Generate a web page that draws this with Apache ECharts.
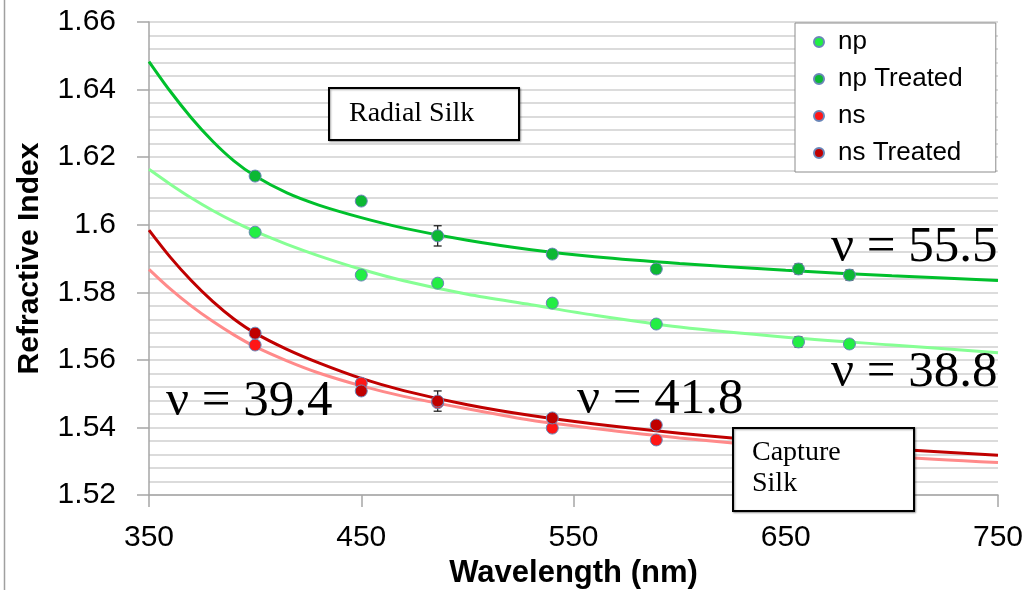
<!DOCTYPE html>
<html>
<head>
<meta charset="utf-8">
<script src="https://cdn.jsdelivr.net/npm/echarts@6/dist/echarts.min.js"></script>
<style>
  html, body { margin: 0; padding: 0; background: #fff; }
  #chart { width: 1031px; height: 590px; }
</style>
</head>
<body>
<div id="chart"></div>
<script>
// Measured refractive indices (Fraunhofer / laser lines, nm)
const wavelengths = [400, 450, 486, 540, 589, 656, 680];
const redWavelengths = [400, 450, 486, 540, 589];

const np        = [1.5978, 1.5851, 1.5827, 1.5768, 1.5706, 1.5653, 1.5647];
const npTreated = [1.6144, 1.6070, 1.5967, 1.5913, 1.5869, 1.5869, 1.5851];
const ns        = [1.5644, 1.5531, 1.5473, 1.5398, 1.5363];
const nsTreated = [1.5679, 1.5508, 1.5478, 1.5428, 1.5407];

// Standard deviations (0 = no bar drawn)
const npErr        = [0, 0, 0, 0, 0, 0.0015, 0.0012];
const npTreatedErr = [0, 0, 0.003, 0.0012, 0.0013, 0.0015, 0.0015];
const nsErr        = [0, 0, 0, 0, 0];
const nsTreatedErr = [0, 0, 0.003, 0, 0];

// Dispersion fit curves sampled across the axis range
const fitWavelengths = [350, 360, 370, 380, 390, 400, 415, 430, 450, 470, 500, 530, 560, 600, 650, 700, 750];
const npTreatedFit = [1.6483, 1.6395, 1.6316, 1.6247, 1.6189, 1.6144, 1.6094, 1.6058, 1.6021, 1.5990, 1.5954, 1.5926, 1.5905, 1.5885, 1.5865, 1.5849, 1.5835];
const npFit        = [1.6164, 1.6120, 1.6079, 1.6042, 1.6009, 1.5980, 1.5942, 1.5908, 1.5868, 1.5834, 1.5794, 1.5763, 1.5732, 1.5697, 1.5667, 1.5644, 1.5621];
const nsTreatedFit = [1.5984, 1.5904, 1.5834, 1.5773, 1.5721, 1.5679, 1.5631, 1.5591, 1.5545, 1.5509, 1.5467, 1.5435, 1.5410, 1.5383, 1.5356, 1.5336, 1.5318];
const nsFit        = [1.5868, 1.5810, 1.5759, 1.5714, 1.5674, 1.5639, 1.5597, 1.5561, 1.5523, 1.5492, 1.5455, 1.5421, 1.5397, 1.5369, 1.5340, 1.5314, 1.5296];

// Abbe numbers written beside the curves
const abbeLabels = ['ν = 55.5', 'ν = 38.8', 'ν = 39.4', 'ν = 41.8'];

const xTickLabels = ['350', '450', '550', '650', '750'];
const yTickLabels = ['1.52', '1.54', '1.56', '1.58', '1.6', '1.62', '1.64', '1.66'];
const seriesNames = ['np', 'np Treated', 'ns', 'ns Treated'];

const xMin = 350, xMax = 750, xStep = 100;
const yMin = 1.52, yMax = 1.66, yStep = 0.02;

const colors = {
  np: '#22ee44', npTreated: '#0cb834', ns: '#ff1616', nsTreated: '#c00000',
  npFit: '#86ff94', npTreatedFit: '#00c02c', nsFit: '#ff8a8a', nsTreatedFit: '#c00000'
};

const zip = (xs, ys) => xs.map((x, i) => [x, ys[i]]);
const zipErr = (xs, ys, es) => xs.map((x, i) => [x, ys[i], es[i]]).filter(d => d[2] > 0);

function fitSeries(name, values, color) {
  return {
    name: name, type: 'line', data: zip(fitWavelengths, values),
    showSymbol: false, smooth: 0.3, silent: true, z: 2,
    lineStyle: { color: color, width: 3 }
  };
}

function errorSeries(xs, ys, es) {
  return {
    type: 'custom', silent: true, z: 3,
    data: zipErr(xs, ys, es),
    renderItem: function (params, api) {
      const x = api.value(0), y = api.value(1), e = api.value(2);
      const top = api.coord([x, y + e]);
      const bot = api.coord([x, y - e]);
      const cap = 4;
      const st = { stroke: '#222', lineWidth: 1.3 };
      return {
        type: 'group', children: [
          { type: 'line', shape: { x1: top[0], y1: top[1], x2: bot[0], y2: bot[1] }, style: st },
          { type: 'line', shape: { x1: top[0] - cap, y1: top[1], x2: top[0] + cap, y2: top[1] }, style: st },
          { type: 'line', shape: { x1: bot[0] - cap, y1: bot[1], x2: bot[0] + cap, y2: bot[1] }, style: st }
        ]
      };
    }
  };
}

function pointSeries(name, xs, ys, color) {
  return {
    name: name, type: 'scatter', data: zip(xs, ys), z: 4,
    symbol: 'circle', symbolSize: 12,
    itemStyle: { color: color, borderColor: '#6a86b8', borderWidth: 1, opacity: 1 }
  };
}

const serif = '"Liberation Serif", "Times New Roman", serif';
const sans = '"Liberation Sans", Arial, sans-serif';

function boxRect(x, y, w, h) {
  return {
    type: 'rect', z: 100,
    shape: { x: x, y: y, width: w, height: h },
    style: { fill: '#fff', stroke: '#000', lineWidth: 2,
      shadowBlur: 2, shadowOffsetX: 1, shadowOffsetY: 1, shadowColor: 'rgba(0,0,0,0.35)' }
  };
}
function boxText(text, x, y) {
  return {
    type: 'text', z: 101, x: x, y: y,
    style: { text: text, font: '28px ' + serif, fill: '#000', verticalAlign: 'middle', align: 'left' }
  };
}
function abbeText(text, x, y) {
  return {
    type: 'text', z: 101, x: x, y: y,
    style: { text: text, font: '51px ' + serif, fill: '#000', verticalAlign: 'middle', align: 'left' }
  };
}

const chart = echarts.init(document.getElementById('chart'), null, { renderer: 'canvas' });

chart.setOption({
  animation: false,
  backgroundColor: '#fff',
  grid: { left: 149, right: 33, top: 22, bottom: 95, containLabel: false, outerBoundsMode: 'none' },
  xAxis: {
    type: 'value', min: xMin, max: xMax, interval: xStep,
    name: 'Wavelength (nm)', nameLocation: 'middle', nameGap: 61,
    nameTextStyle: { fontFamily: sans, fontWeight: 'bold', fontSize: 31, color: '#000' },
    axisLine: { show: true, onZero: false, lineStyle: { color: '#a6a6a6', width: 1.5 } },
    axisTick: { show: true, inside: false, length: 12, lineStyle: { color: '#a6a6a6', width: 1.5 } },
    axisLabel: {
      margin: 28, fontFamily: sans, fontSize: 30, color: '#000',
      formatter: v => xTickLabels[Math.round((v - xMin) / xStep)]
    },
    splitLine: { show: false }
  },
  yAxis: {
    type: 'value', min: yMin, max: yMax, interval: yStep,
    name: 'Refractive Index', nameLocation: 'middle', nameGap: 104, nameRotate: 90,
    nameTextStyle: { fontFamily: sans, fontWeight: 'bold', fontSize: 30, color: '#000' },
    axisLine: { show: true, lineStyle: { color: '#a6a6a6', width: 1.5 } },
    axisTick: { show: true, inside: false, length: 12, lineStyle: { color: '#a6a6a6', width: 1.5 } },
    axisLabel: {
      margin: 33, fontFamily: sans, fontSize: 30, color: '#000',
      formatter: v => yTickLabels[Math.round((v - yMin) / yStep)]
    },
    splitLine: { show: true, lineStyle: { color: '#d0d0d0', width: 1.5 } },
    minorTick: { show: false, splitNumber: 5 },
    minorSplitLine: { show: true, lineStyle: { color: '#d0d0d0', width: 1.5 } }
  },
  legend: {
    data: seriesNames, orient: 'vertical', left: 795, top: 23,
    padding: [6, 33, 6, 18], itemGap: 11, itemWidth: 28, itemHeight: 10,
    icon: 'circle', borderColor: '#8c8c8c', borderWidth: 1, backgroundColor: '#fff',
    textStyle: { fontFamily: sans, fontSize: 26, color: '#000', lineHeight: 26 }
  },
  series: [
    fitSeries('np fit', npFit, colors.npFit),
    fitSeries('np Treated fit', npTreatedFit, colors.npTreatedFit),
    fitSeries('ns fit', nsFit, colors.nsFit),
    fitSeries('ns Treated fit', nsTreatedFit, colors.nsTreatedFit),
    errorSeries(wavelengths, np, npErr),
    errorSeries(wavelengths, npTreated, npTreatedErr),
    errorSeries(redWavelengths, ns, nsErr),
    errorSeries(redWavelengths, nsTreated, nsTreatedErr),
    pointSeries('np', wavelengths, np, colors.np),
    pointSeries('np Treated', wavelengths, npTreated, colors.npTreated),
    pointSeries('ns', redWavelengths, ns, colors.ns),
    pointSeries('ns Treated', redWavelengths, nsTreated, colors.nsTreated)
  ],
  graphic: [
    { type: 'line', z: 100, shape: { x1: 4.5, y1: 0, x2: 4.5, y2: 590 }, style: { stroke: '#a0a0a0', lineWidth: 1.5 } },
    boxRect(329, 88, 190, 52),
    boxText('Radial Silk', 349, 114),
    boxRect(733, 428, 181, 83),
    boxText('Capture', 752, 452.5),
    boxText('Silk', 752, 483.5),
    abbeText(abbeLabels[0], 831, 248),
    abbeText(abbeLabels[1], 831, 373),
    abbeText(abbeLabels[2], 166, 402),
    abbeText(abbeLabels[3], 577, 400)
  ]
});
</script>
</body>
</html>
